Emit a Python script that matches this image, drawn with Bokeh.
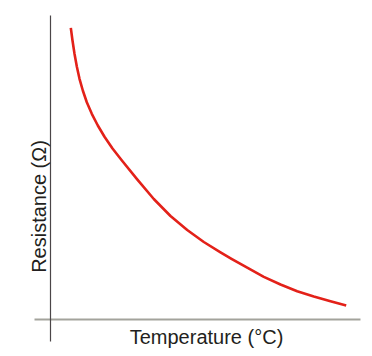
from math import pi
from bokeh.plotting import figure
from bokeh.models import Range1d, Label
from bokeh.embed import file_html
from bokeh.resources import INLINE

# Curve (arbitrary units: temperature 0-100, resistance 0-100)
temperature = [6.77, 7.33, 8.0, 8.77, 9.67, 10.77, 12.1, 13.77, 15.77, 18.0,
               20.67, 23.67, 28.9, 34.43, 40.0, 45.57, 51.1, 56.67, 60.33, 65.57,
               71.1, 76.67, 82.23, 87.77, 93.33, 98.57]
resistance = [97.23, 93.0, 88.57, 84.33, 80.23, 76.33, 72.43, 68.57, 64.67, 60.93,
              57.0, 53.17, 46.73, 40.17, 34.5, 29.83, 25.83, 22.4, 20.23, 17.27,
              14.23, 11.67, 9.43, 7.67, 6.07, 4.67]

x_label = "Temperature (°C)"
y_label = "Resistance (Ω)"

p = figure(width=372, height=356, output_backend="svg", toolbar_location=None,
           x_range=Range1d(-16.667, 107.333), y_range=Range1d(-12.333, 106.333),
           x_axis_location=None, y_axis_location=None, min_border=0)
p.grid.visible = False
p.outline_line_color = None
p.background_fill_color = "white"
p.border_fill_color = "white"

# axes lines
p.segment(x0=[-5.33], y0=[0], x1=[103.33], y1=[0], line_color="#a3a39c", line_width=2)
p.segment(x0=[0], y0=[-7.33], x1=[0], y1=[101.33], line_color="#4b4648", line_width=1.2)

p.line(temperature, resistance, line_color="#e32119", line_width=2.6,
       line_join="round")

font = "Liberation Sans"
p.add_layout(Label(x=52, y=-5.8, text=x_label, text_align="center",
                   text_baseline="alphabetic", text_font=font,
                   text_font_size="20px", text_color="#231f20"))
p.add_layout(Label(x=-4.0, y=37.67, text=y_label, angle=pi / 2,
                   text_align="center", text_baseline="alphabetic",
                   text_font=font, text_font_size="20px", text_color="#231f20"))

open("out.html", "w").write(file_html(p, INLINE))
